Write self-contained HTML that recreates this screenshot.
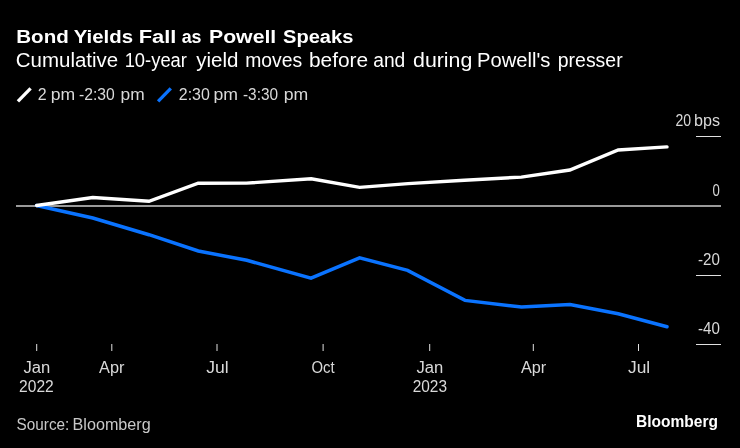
<!DOCTYPE html>
<html>
<head>
<meta charset="utf-8">
<title>Bond Yields Fall as Powell Speaks</title>
<style>
  html, body { margin: 0; padding: 0; background: #000; }
  body { width: 740px; height: 448px; overflow: hidden; font-family: "Liberation Sans", sans-serif; }
  svg { display: block; will-change: transform; }
  text { font-family: "Liberation Sans", sans-serif; }
</style>
</head>
<body>
<svg width="740" height="448" viewBox="0 0 740 448">
  <rect x="0" y="0" width="740" height="448" fill="#000"/>

  <!-- Title -->
  <text x="16.23" y="42.8" font-size="19.2" font-weight="bold" fill="#ffffff" textLength="52.54" lengthAdjust="spacingAndGlyphs">Bond</text>
  <text x="73.70" y="42.8" font-size="19.2" font-weight="bold" fill="#ffffff" textLength="59.31" lengthAdjust="spacingAndGlyphs">Yields</text>
  <text x="138.76" y="42.8" font-size="19.2" font-weight="bold" fill="#ffffff" textLength="37.66" lengthAdjust="spacingAndGlyphs">Fall</text>
  <text x="181.70" y="42.8" font-size="19.2" font-weight="bold" fill="#ffffff" textLength="19.82" lengthAdjust="spacingAndGlyphs">as</text>
  <text x="208.99" y="42.8" font-size="19.2" font-weight="bold" fill="#ffffff" textLength="67.28" lengthAdjust="spacingAndGlyphs">Powell</text>
  <text x="283.00" y="42.8" font-size="19.2" font-weight="bold" fill="#ffffff" textLength="70.30" lengthAdjust="spacingAndGlyphs">Speaks</text>
  <!-- Subtitle -->
  <text x="15.75" y="67.4" font-size="19.6" font-weight="normal" fill="#ffffff" textLength="102.44" lengthAdjust="spacingAndGlyphs">Cumulative</text>
  <text x="124.66" y="67.4" font-size="19.6" font-weight="normal" fill="#ffffff" textLength="62.29" lengthAdjust="spacingAndGlyphs">10-year</text>
  <text x="196.30" y="67.4" font-size="19.6" font-weight="normal" fill="#ffffff" textLength="42.24" lengthAdjust="spacingAndGlyphs">yield</text>
  <text x="245.21" y="67.4" font-size="19.6" font-weight="normal" fill="#ffffff" textLength="56.99" lengthAdjust="spacingAndGlyphs">moves</text>
  <text x="308.93" y="67.4" font-size="19.6" font-weight="normal" fill="#ffffff" textLength="59.26" lengthAdjust="spacingAndGlyphs">before</text>
  <text x="373.20" y="67.4" font-size="19.6" font-weight="normal" fill="#ffffff" textLength="32.08" lengthAdjust="spacingAndGlyphs">and</text>
  <text x="413.00" y="67.4" font-size="19.6" font-weight="normal" fill="#ffffff" textLength="59.38" lengthAdjust="spacingAndGlyphs">during</text>
  <text x="477.07" y="67.4" font-size="19.6" font-weight="normal" fill="#ffffff" textLength="73.32" lengthAdjust="spacingAndGlyphs">Powell's</text>
  <text x="557.81" y="67.4" font-size="19.6" font-weight="normal" fill="#ffffff" textLength="64.82" lengthAdjust="spacingAndGlyphs">presser</text>

  <!-- Legend -->
  <line x1="17.9" y1="101.3" x2="30.6" y2="88.4" stroke="#ffffff" stroke-width="3.3"/>
  <text x="37.70" y="100.3" font-size="15.6" font-weight="normal" fill="#d9d9d9" textLength="8.89" lengthAdjust="spacingAndGlyphs">2</text>
  <text x="50.67" y="100.3" font-size="15.6" font-weight="normal" fill="#d9d9d9" textLength="24.45" lengthAdjust="spacingAndGlyphs">pm</text>
  <text x="79.00" y="100.3" font-size="15.6" font-weight="normal" fill="#d9d9d9" textLength="35.77" lengthAdjust="spacingAndGlyphs">-2:30</text>
  <text x="120.49" y="100.3" font-size="15.6" font-weight="normal" fill="#d9d9d9" textLength="24.12" lengthAdjust="spacingAndGlyphs">pm</text>
  <line x1="158.1" y1="101.3" x2="170.8" y2="88.4" stroke="#0a73ff" stroke-width="3.3"/>
  <text x="178.80" y="100.3" font-size="15.6" font-weight="normal" fill="#d9d9d9" textLength="31.06" lengthAdjust="spacingAndGlyphs">2:30</text>
  <text x="213.47" y="100.3" font-size="15.6" font-weight="normal" fill="#d9d9d9" textLength="24.56" lengthAdjust="spacingAndGlyphs">pm</text>
  <text x="243.00" y="100.3" font-size="15.6" font-weight="normal" fill="#d9d9d9" textLength="35.08" lengthAdjust="spacingAndGlyphs">-3:30</text>
  <text x="283.67" y="100.3" font-size="15.6" font-weight="normal" fill="#d9d9d9" textLength="24.56" lengthAdjust="spacingAndGlyphs">pm</text>

  <!-- Y axis gridlines / ticks -->
  <rect x="696" y="136" width="25" height="1" fill="#e0e0e0"/>
  <rect x="16" y="205" width="705" height="2" fill="#9a9a9a"/>
  <rect x="696" y="275" width="25" height="1" fill="#e0e0e0"/>
  <rect x="696" y="344" width="25" height="1" fill="#e0e0e0"/>
  <!-- Y axis labels -->
  <text x="675.50" y="126" font-size="15.6" font-weight="normal" fill="#d9d9d9" textLength="15.61" lengthAdjust="spacingAndGlyphs">20</text>
  <text x="693.96" y="126" font-size="15.6" font-weight="normal" fill="#d9d9d9" textLength="26.02" lengthAdjust="spacingAndGlyphs">bps</text>
  <text x="712.60" y="196" font-size="15.6" font-weight="normal" fill="#d9d9d9" textLength="7.32" lengthAdjust="spacingAndGlyphs">0</text>
  <text x="698.00" y="265" font-size="15.6" font-weight="normal" fill="#d9d9d9" textLength="21.88" lengthAdjust="spacingAndGlyphs">-20</text>
  <text x="698.00" y="334" font-size="15.6" font-weight="normal" fill="#d9d9d9" textLength="21.88" lengthAdjust="spacingAndGlyphs">-40</text>

  <!-- X axis ticks -->
  <g fill="#e0e0e0">
    <rect x="36.2" y="344" width="1" height="7"/>
    <rect x="111.3" y="344" width="1" height="7"/>
    <rect x="216.5" y="344" width="1" height="7"/>
    <rect x="322.6" y="344" width="1" height="7"/>
    <rect x="429.2" y="344" width="1" height="7"/>
    <rect x="532.8" y="344" width="1" height="7"/>
    <rect x="638" y="344" width="1" height="7"/>
  </g>
  <!-- X axis labels -->
  <text x="23.40" y="372.6" font-size="15.6" font-weight="normal" fill="#d9d9d9" textLength="26.82" lengthAdjust="spacingAndGlyphs">Jan</text>
  <text x="99.10" y="372.6" font-size="15.6" font-weight="normal" fill="#d9d9d9" textLength="25.40" lengthAdjust="spacingAndGlyphs">Apr</text>
  <text x="206.30" y="372.6" font-size="15.6" font-weight="normal" fill="#d9d9d9" textLength="22.42" lengthAdjust="spacingAndGlyphs">Jul</text>
  <text x="311.40" y="372.6" font-size="15.6" font-weight="normal" fill="#d9d9d9" textLength="23.16" lengthAdjust="spacingAndGlyphs">Oct</text>
  <text x="416.50" y="372.6" font-size="15.6" font-weight="normal" fill="#d9d9d9" textLength="26.82" lengthAdjust="spacingAndGlyphs">Jan</text>
  <text x="520.90" y="372.6" font-size="15.6" font-weight="normal" fill="#d9d9d9" textLength="25.30" lengthAdjust="spacingAndGlyphs">Apr</text>
  <text x="628.00" y="372.6" font-size="15.6" font-weight="normal" fill="#d9d9d9" textLength="22.22" lengthAdjust="spacingAndGlyphs">Jul</text>
  <text x="19.10" y="392.2" font-size="15.6" font-weight="normal" fill="#d9d9d9" textLength="34.67" lengthAdjust="spacingAndGlyphs">2022</text>
  <text x="412.70" y="392.2" font-size="15.6" font-weight="normal" fill="#d9d9d9" textLength="34.37" lengthAdjust="spacingAndGlyphs">2023</text>

  <!-- Series -->
  <polyline fill="none" stroke="#0a73ff" stroke-width="3.5" stroke-linejoin="miter" stroke-linecap="round"
    points="36.6,205.5 92.8,218 149,234.7 198.3,251.0 246.8,260.3 311,278.2 359.6,257.9 407.6,270.4 465,300.4 521.5,307.1 570,304.5 618.2,313.8 667,326.7"/>
  <polyline fill="none" stroke="#ffffff" stroke-width="3.4" stroke-linejoin="miter" stroke-linecap="round"
    points="36.6,205.5 92.8,197.5 149,201.3 198.2,183.2 246.5,183.1 311.2,178.8 359.6,187.4 408,183.6 464.4,180.2 521.3,177.1 569.8,170 618.2,150.0 667,146.9"/>

  <!-- Footer -->
  <text x="16.60" y="430" font-size="15.6" font-weight="normal" fill="#c8c8c8" textLength="52.71" lengthAdjust="spacingAndGlyphs">Source:</text>
  <text x="72.56" y="430" font-size="15.6" font-weight="normal" fill="#c8c8c8" textLength="78.13" lengthAdjust="spacingAndGlyphs">Bloomberg</text>
  <text x="636.04" y="426.7" font-size="16.2" font-weight="bold" fill="#ffffff" textLength="82.01" lengthAdjust="spacingAndGlyphs">Bloomberg</text>
</svg>
</body>
</html>
